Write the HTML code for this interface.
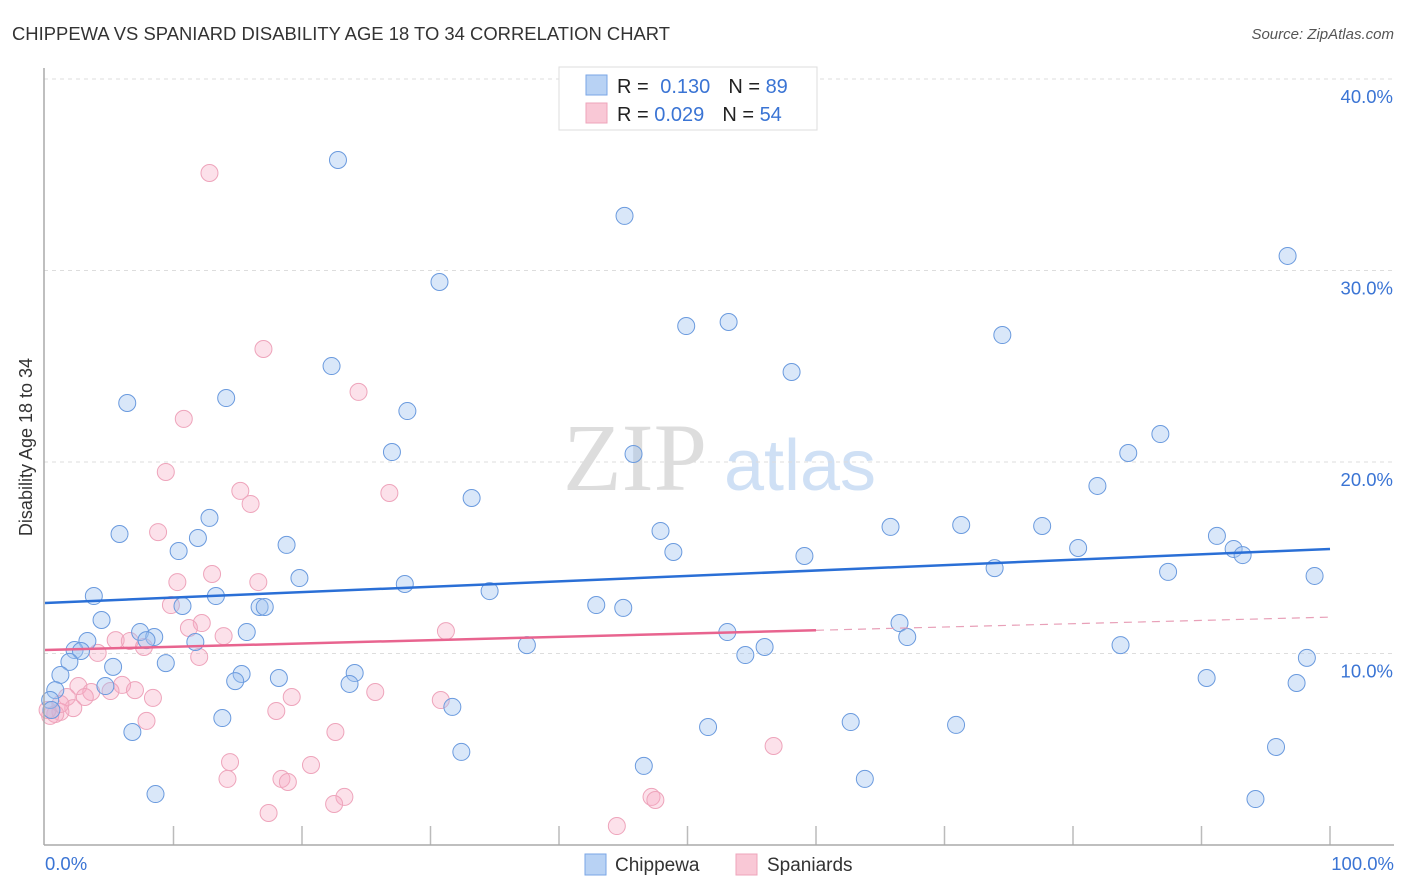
<!DOCTYPE html>
<html><head><meta charset="utf-8"><style>
body{margin:0;background:#fff;font-family:"Liberation Sans",sans-serif}
svg{display:block}
</style></head><body>
<svg id="c" width="1406" height="892">
<text x="12" y="40" font-size="18.4" fill="#333" textLength="658">CHIPPEWA VS SPANIARD DISABILITY AGE 18 TO 34 CORRELATION CHART</text>
<text x="1394" y="39" font-size="15" fill="#555" text-anchor="end" font-style="italic">Source: ZipAtlas.com</text>
<text x="40" y="455" font-size="18" fill="#333" text-anchor="middle" transform="rotate(-90 32 455)">Disability Age 18 to 34</text>
<g><text x="635" y="490" font-size="96" font-family="Liberation Serif,serif" fill="#ddd" text-anchor="middle">ZIP</text><text x="800" y="490" font-size="72" fill="#cfe0f5" text-anchor="middle">atlas</text></g>
<g id="grid"></g><g id="pts"></g><g id="lines"></g>
<line x1="44" y1="68" x2="44" y2="845" stroke="#aaa" stroke-width="1.5"/>
<line x1="44" y1="845" x2="1394" y2="845" stroke="#aaa" stroke-width="1.5"/>
<text x="45" y="870" font-size="18.5" fill="#3a74d4">0.0%</text>
<text x="1394" y="870" font-size="18.5" fill="#3a74d4" text-anchor="end">100.0%</text>
<g>
<rect x="559" y="67" width="258" height="63" fill="#fff" stroke="#ddd"/>
<rect x="586" y="75" width="21" height="20" fill="#b8d2f4" stroke="#7aa6e6"/>
<rect x="586" y="103" width="21" height="20" fill="#f9c8d6" stroke="#eea4bb"/>
<text x="617" y="93" font-size="20" fill="#222">R = <tspan fill="#3a74d4" dx="6">0.130</tspan><tspan dx="18" fill="#222">N = </tspan><tspan fill="#3a74d4">89</tspan></text>
<text x="617" y="121" font-size="20" fill="#222">R = <tspan fill="#3a74d4">0.029</tspan><tspan dx="18" fill="#222">N = </tspan><tspan fill="#3a74d4">54</tspan></text>
</g>
<g>
<rect x="585" y="854" width="21" height="21" fill="#b8d2f4" stroke="#7aa6e6"/>
<text x="615" y="871" font-size="19" fill="#333">Chippewa</text>
<rect x="736" y="854" width="21" height="21" fill="#f9c8d6" stroke="#eea4bb"/>
<text x="767" y="871" font-size="19" fill="#333">Spaniards</text>
</g>
</svg>
<script>
const yTicks=[10,20,30,40];
const xTickPct=[10,20,30,40,50,60,70,80,90,100];
const bluePx=[[338,160],[625,216],[1287,256],[440,282],[686,326],[729,322],[1002,335],[331,366],[791,372],[127,403],[226,398],[407,411],[1160,434],[392,452],[633,454],[1128,453],[471,498],[1097,486],[210,518],[120,534],[661,531],[891,527],[961,525],[1042,526],[198,538],[179,551],[287,545],[674,552],[805,556],[1078,548],[1217,536],[1233,549],[1242,555],[994,568],[1168,572],[1315,576],[299,578],[405,584],[489,591],[94,596],[216,596],[182,606],[260,607],[265,607],[596,605],[623,608],[102,620],[900,623],[140,632],[154,637],[147,640],[247,632],[88,641],[727,632],[195,642],[907,637],[75,650],[81,651],[527,645],[1121,645],[764,647],[745,655],[113,667],[69,662],[166,663],[241,674],[355,673],[61,675],[279,678],[235,681],[1307,658],[1206,678],[1297,683],[349,684],[106,686],[55,690],[452,707],[222,718],[851,722],[956,725],[708,727],[133,732],[1276,747],[461,752],[644,766],[865,779],[156,794],[1256,799],[50,700],[52,710]];
const pinkPx=[[210,173],[264,349],[184,419],[359,392],[166,472],[240,491],[250,504],[389,493],[158,532],[177,582],[212,574],[258,582],[171,605],[202,623],[189,628],[223,636],[446,631],[116,640],[130,641],[144,647],[98,653],[199,657],[79,686],[122,685],[135,690],[91,692],[111,691],[153,698],[292,697],[375,692],[441,700],[276,711],[85,697],[67,697],[73,708],[60,712],[55,714],[50,716],[146,721],[336,732],[773,746],[230,762],[311,765],[282,779],[288,782],[227,779],[345,797],[334,804],[651,797],[656,800],[268,813],[617,826],[60,704],[48,710]];
const blueX=bluePx.map(p=>+((p[0]-45)/12.85).toFixed(1));
const blueY=bluePx.map(p=>+((845-p[1])/19.15).toFixed(2));
const pinkX=pinkPx.map(p=>+((p[0]-45)/12.85).toFixed(1));
const pinkY=pinkPx.map(p=>+((845-p[1])/19.15).toFixed(2));
const blueTrend=[12.64,15.46];
const pinkTrend=[10.18,11.9];
const pinkSolidEnd=60;
const sx=v=>45+v*12.85, sy=v=>845-v*19.15;
const NS="http://www.w3.org/2000/svg";
function mk(t,a,p){const e=document.createElementNS(NS,t);for(const k in a)e.setAttribute(k,a[k]);p.appendChild(e);return e;}
const grid=document.getElementById('grid');
mk('line',{x1:44,y1:79,x2:1394,y2:79,stroke:'#ddd','stroke-dasharray':'4,4'},grid);
yTicks.forEach(t=>{
 const l=mk('line',{x1:44,y1:sy(t),x2:1394,y2:sy(t),stroke:'#ddd','stroke-dasharray':'4,4'},grid);
 
 
 const tx=mk('text',{x:1393,y:sy(t)+24,'font-size':18.5,fill:'#3a74d4','text-anchor':'end'},grid);
 tx.textContent=t.toFixed(1)+'%';
 
 
});
xTickPct.forEach(t=>{
 const l=mk('line',{x1:sx(t),y1:826,x2:sx(t),y2:845,stroke:'#bbb','stroke-width':1.5},grid);
 
 
});
const pts=document.getElementById('pts');
pinkX.forEach((x,i)=>{
 const c=mk('circle',{cx:sx(x),cy:sy(pinkY[i]),r:8.5,fill:'rgba(245,170,195,0.35)',stroke:'#eea4bb','stroke-width':1},pts);
 
 
});
blueX.forEach((x,i)=>{
 const c=mk('circle',{cx:sx(x),cy:sy(blueY[i]),r:8.5,fill:'rgba(160,196,240,0.4)',stroke:'#6a9ade','stroke-width':1},pts);
 
 
});
const lines=document.getElementById('lines');
const bl=mk('line',{x1:sx(0),y1:sy(blueTrend[0]),x2:sx(100),y2:sy(blueTrend[1]),stroke:'#2a6fd6','stroke-width':2.5},lines);


const pm=pinkTrend[0]+(pinkTrend[1]-pinkTrend[0])*pinkSolidEnd/100;
const pl=mk('line',{x1:sx(0),y1:sy(pinkTrend[0]),x2:sx(pinkSolidEnd),y2:sy(pm),stroke:'#e8648f','stroke-width':2.5},lines);


const pd=mk('line',{x1:sx(pinkSolidEnd),y1:sy(pm),x2:sx(100),y2:sy(pinkTrend[1]),stroke:'#e8a0b8','stroke-width':1.2,'stroke-dasharray':'8,6'},lines);


</script>
</body></html>
